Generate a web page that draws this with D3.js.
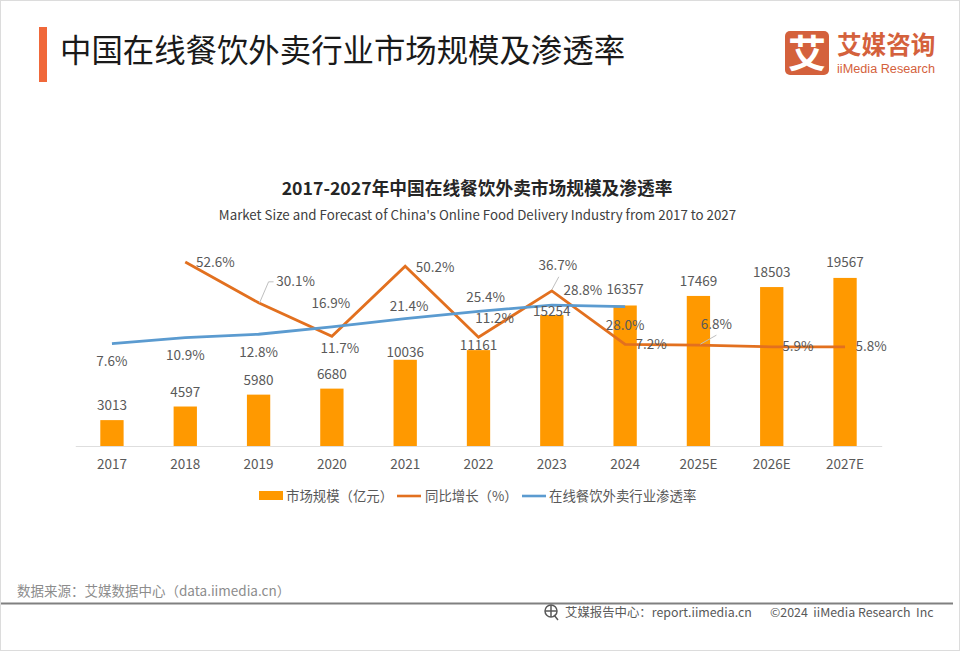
<!DOCTYPE html>
<html>
<head>
<meta charset="utf-8">
<style>
  html, body { margin: 0; padding: 0; background: #fff; }
  svg { display: block; }
  text { font-family: "Noto Sans CJK SC", "Noto Sans", sans-serif; }
</style>
</head>
<body>
<svg id="chart" width="960" height="651"></svg>
<script src="https://cdn.jsdelivr.net/npm/d3@7/dist/d3.min.js"></script>
<script>
const years = ["2017", "2018", "2019", "2020", "2021", "2022", "2023", "2024", "2025E", "2026E", "2027E"];
const marketSize = [3013, 4597, 5980, 6680, 10036, 11161, 15254, 16357, 17469, 18503, 19567];
const growthRate = [null, 52.6, 30.1, 11.7, 50.2, 11.2, 36.7, 7.2, 6.8, 5.9, 5.8];
const penetration = [7.6, 10.9, 12.8, 16.9, 21.4, 25.4, 28.8, 28.0, null, null, null];

const ORANGE_BAR = "#ff9900";
const ORANGE_LINE = "#e2701f";
const BLUE_LINE = "#5b9bd0";
const BRAND = "#d4613c";
const TEXT = "#595959";

// label nudges, by year index, from the point each label belongs to
const sizeLabelDy = [-16, -16, -16, -16, -9, -6, -5, -17, -16, -16, -17];
const growthLabelNudge = [null, [30, -1], [37, -23], [8, 11], [30, 0], [16, -20], [6, -27], [26, -1], [18, -22], [26, -2], [26, -2]];
const penLabelNudge = [[0, 16], [0, 16], [0, 17], [-1, -25], [4, -14], [7, -15], [31, -16], [0, 17]];

const svg = d3.select("#chart");

// page frame
svg.append("rect").attr("x", 0.5).attr("y", 0.5).attr("width", 959).attr("height", 650)
  .attr("fill", "#fff").attr("stroke", "#dcdcdc");

// header
svg.append("rect").attr("x", 39).attr("y", 27).attr("width", 8).attr("height", 55).attr("fill", "#f0683a");
svg.append("text").attr("x", 60).attr("y", 62).attr("font-size", 31.4).attr("fill", "#1a1a1a")
  .text("中国在线餐饮外卖行业市场规模及渗透率");

svg.append("rect").attr("x", 785).attr("y", 31).attr("width", 44).attr("height", 44).attr("rx", 5).attr("fill", BRAND);
svg.append("text").attr("x", 807).attr("y", 67).attr("text-anchor", "middle").attr("font-size", 38)
  .attr("font-weight", 700).attr("fill", "#fff").text("艾");
svg.append("text").attr("x", 837).attr("y", 54).attr("font-size", 24.6).attr("font-weight", 700)
  .attr("fill", BRAND).text("艾媒咨询");
svg.append("text").attr("x", 837).attr("y", 72.5).attr("font-size", 12.5)
  .style("font-family", '"Liberation Sans", sans-serif')
  .attr("fill", BRAND).attr("textLength", 98).attr("lengthAdjust", "spacingAndGlyphs").text("iiMedia Research");

// chart titles
svg.append("text").attr("x", 477).attr("y", 195).attr("text-anchor", "middle").attr("font-size", 17.7)
  .attr("font-weight", 700).attr("fill", "#262626").text("2017-2027年中国在线餐饮外卖市场规模及渗透率");
svg.append("text").attr("x", 477.5).attr("y", 220).attr("text-anchor", "middle").attr("font-size", 13.3)
  .attr("fill", "#404040").text("Market Size and Forecast of China's Online Food Delivery Industry from 2017 to 2027");

// scales
const x = d3.scaleBand().domain(years).range([75.3, 881.7]).paddingInner(0.682).paddingOuter(0.341);
const cx = (d) => x(d) + x.bandwidth() / 2;
const ySize = d3.scaleLinear().domain([0, 20000]).range([446, 274.2]);
const yRate = d3.scaleLinear().domain([0, 60]).range([357.5, 248.5]);

// bars
svg.append("g").selectAll("rect").data(marketSize).join("rect")
  .attr("x", (d, i) => x(years[i]))
  .attr("y", (d) => ySize(d))
  .attr("width", x.bandwidth())
  .attr("height", (d) => ySize(0) - ySize(d))
  .attr("fill", ORANGE_BAR);

// x axis
const axis = svg.append("g").attr("transform", `translate(0,${ySize(0)})`)
  .call(d3.axisBottom(x).tickSize(0).tickPadding(13));
axis.select(".domain").attr("stroke", "#dedede").attr("stroke-width", 1.2);
axis.selectAll("text").attr("font-size", 13.5).attr("fill", TEXT)
  .style("font-family", '"Noto Sans CJK SC", "Noto Sans", sans-serif');

// lines
const rows = years.map((year, i) => ({ year, size: marketSize[i], growth: growthRate[i], pen: penetration[i] }));
const lineOf = (key) => d3.line()
  .defined((d) => d[key] !== null)
  .x((d) => cx(d.year))
  .y((d) => yRate(d[key]));

svg.append("path").datum(rows).attr("d", lineOf("growth"))
  .attr("fill", "none").attr("stroke", ORANGE_LINE).attr("stroke-width", 2.8);
svg.append("path").datum(rows).attr("d", lineOf("pen"))
  .attr("fill", "none").attr("stroke", BLUE_LINE).attr("stroke-width", 2.8);

// leader lines for the labels pushed away from their points
const leaders = [
  { i: 2, path: [[1, 0], [10, -21], [15, -21]] },
  { i: 6, path: [[0, -1], [7, -14]] },
  { i: 8, path: [[2, -1], [18, -10]] }
];
svg.append("g").selectAll("path").data(leaders).join("path")
  .attr("d", (d) => d3.line()(d.path.map(([dx, dy]) => [cx(years[d.i]) + dx, yRate(growthRate[d.i]) + dy])))
  .attr("fill", "none").attr("stroke", "#bfbfbf").attr("stroke-width", 1);

// data labels
const label = (g, xPos, yPos, str) => g.append("text")
  .attr("x", xPos).attr("y", yPos).attr("text-anchor", "middle")
  .attr("dominant-baseline", "central").attr("font-size", 13.5).attr("fill", TEXT).text(str);

const labels = svg.append("g");
marketSize.forEach((v, i) => label(labels, cx(years[i]), ySize(v) + sizeLabelDy[i], v));
growthRate.forEach((v, i) => {
  if (v === null) return;
  const [dx, dy] = growthLabelNudge[i];
  label(labels, cx(years[i]) + dx, yRate(v) + dy, v.toFixed(1) + "%");
});
penetration.forEach((v, i) => {
  if (v === null) return;
  const [dx, dy] = penLabelNudge[i];
  label(labels, cx(years[i]) + dx, yRate(v) + dy, v.toFixed(1) + "%");
});

// legend
const legend = svg.append("g").attr("font-size", 13.4).attr("fill", TEXT);
legend.append("rect").attr("x", 259).attr("y", 491).attr("width", 24).attr("height", 9).attr("fill", ORANGE_BAR);
legend.append("text").attr("x", 286).attr("y", 495).attr("dominant-baseline", "central").text("市场规模（亿元）");
legend.append("line").attr("x1", 397).attr("x2", 421).attr("y1", 496).attr("y2", 496)
  .attr("stroke", ORANGE_LINE).attr("stroke-width", 2.6);
legend.append("text").attr("x", 425).attr("y", 495).attr("dominant-baseline", "central").text("同比增长（%）");
legend.append("line").attr("x1", 522).attr("x2", 546).attr("y1", 496).attr("y2", 496)
  .attr("stroke", BLUE_LINE).attr("stroke-width", 2.6);
legend.append("text").attr("x", 549).attr("y", 495).attr("dominant-baseline", "central").text("在线餐饮外卖行业渗透率");

// footer
svg.append("text").attr("x", 17).attr("y", 590).attr("dominant-baseline", "central")
  .attr("font-size", 13.5).attr("fill", "#8c8c8c").text("数据来源：艾媒数据中心（data.iimedia.cn）");
svg.append("line").attr("x1", 1).attr("x2", 953).attr("y1", 603.5).attr("y2", 603.5)
  .attr("stroke", "#808080").attr("stroke-width", 1.8);

const globe = svg.append("g").attr("fill", "none").attr("stroke", "#595959").attr("stroke-width", 1.5);
globe.append("circle").attr("cx", 551).attr("cy", 611).attr("r", 6);
globe.append("path").attr("d", "M545 611H557M551 605V617M554 615L558 620");

const foot = svg.append("g").attr("font-size", 12.4).attr("fill", "#595959");
foot.append("text").attr("x", 565).attr("y", 612).attr("dominant-baseline", "central")
  .text("艾媒报告中心：report.iimedia.cn");
foot.append("text").attr("x", 770).attr("y", 612).attr("dominant-baseline", "central")
  .attr("xml:space", "preserve").text("©2024  iiMedia Research  Inc");
</script>
</body>
</html>
